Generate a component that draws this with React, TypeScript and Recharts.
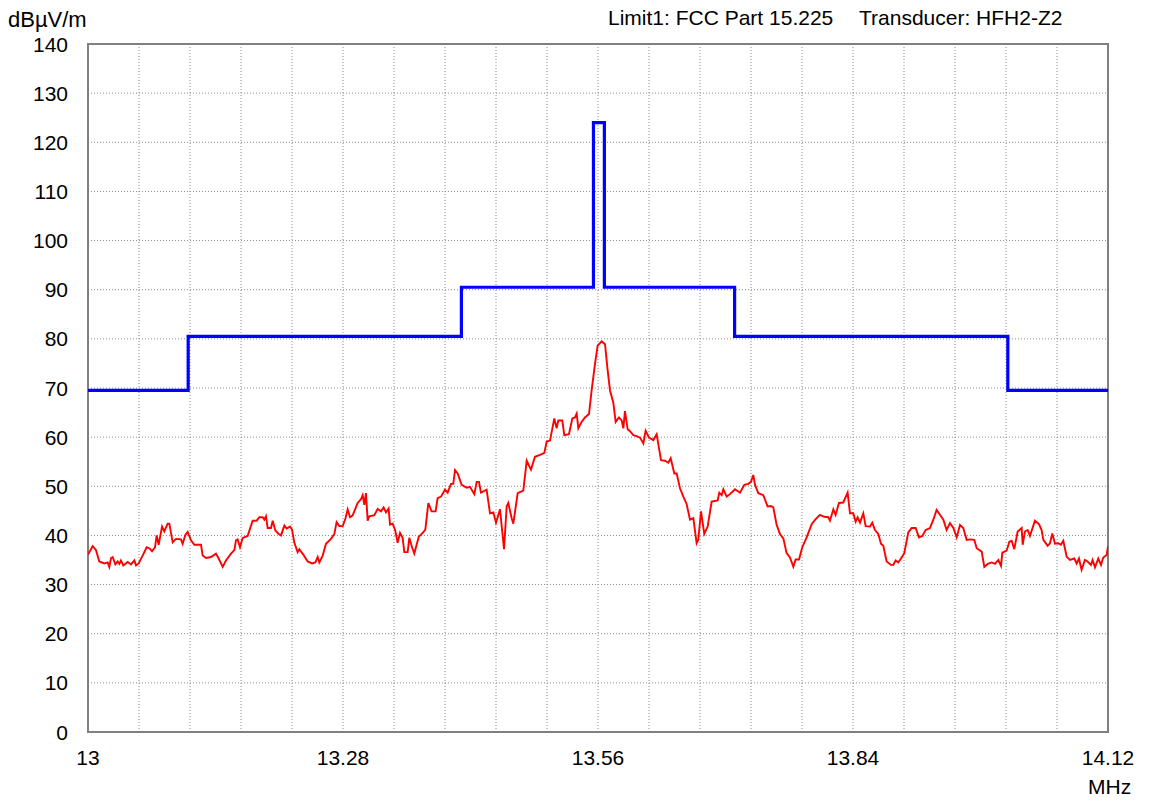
import React from "react";
import { LineChart, Line, XAxis, YAxis, CartesianGrid, ReferenceArea } from "recharts";

const traceFreq: number[] = [
  13.0, 13.0051, 13.0088, 13.0124, 13.0179, 13.0216, 13.0234, 13.0253, 13.0271, 13.03, 13.0326, 13.0344, 13.0362, 13.0388, 13.0436, 13.0472, 13.0509, 13.0527, 13.0556, 13.06,
  13.0644, 13.0673, 13.0703, 13.0736, 13.0754, 13.0776, 13.0813, 13.0838, 13.0875, 13.0893, 13.093, 13.0966, 13.1021, 13.1039, 13.1069, 13.1094, 13.1131, 13.1168, 13.1241, 13.1259,
  13.1296, 13.1351, 13.1405, 13.1435, 13.1479, 13.1515, 13.157, 13.1607, 13.1625, 13.1643, 13.1669, 13.1698, 13.1753, 13.1808, 13.1852, 13.1881, 13.1918, 13.1936, 13.1954, 13.1973,
  13.2009, 13.2028, 13.2057, 13.2094, 13.2119, 13.2156, 13.2181, 13.2218, 13.224, 13.2266, 13.2302, 13.232, 13.2364, 13.2412, 13.246, 13.2496, 13.2522, 13.254, 13.2577, 13.2613,
  13.2668, 13.2705, 13.273, 13.276, 13.2796, 13.2826, 13.2851, 13.2877, 13.2906, 13.2935, 13.2961, 13.2998, 13.3016, 13.3034, 13.3052, 13.3071, 13.3089, 13.3144, 13.3181, 13.3217,
  13.3246, 13.3272, 13.3301, 13.3316, 13.3345, 13.3374, 13.34, 13.3426, 13.3455, 13.3473, 13.351, 13.3528, 13.3558, 13.3583, 13.3631, 13.3675, 13.3704, 13.3737, 13.3773, 13.3817,
  13.3839, 13.3876, 13.392, 13.3949, 13.3986, 13.4011, 13.403, 13.4059, 13.4103, 13.4158, 13.4194, 13.4242, 13.4268, 13.4293, 13.4315, 13.4377, 13.4414, 13.4451, 13.448, 13.4524,
  13.4568, 13.4597, 13.4615, 13.4652, 13.467, 13.4718, 13.478, 13.4817, 13.4864, 13.4908, 13.4963, 13.5011, 13.5036, 13.5073, 13.512, 13.5146, 13.5164, 13.5208, 13.523, 13.5281,
  13.5318, 13.5347, 13.5366, 13.5384, 13.542, 13.5457, 13.5501, 13.553, 13.5567, 13.5596, 13.564, 13.5677, 13.5706, 13.5732, 13.5768, 13.5794, 13.583, 13.586, 13.5878, 13.5896,
  13.5926, 13.5951, 13.5988, 13.6024, 13.6061, 13.6098, 13.6123, 13.616, 13.6207, 13.6244, 13.6292, 13.6335, 13.6372, 13.6398, 13.6438, 13.6464, 13.65, 13.6537, 13.6573, 13.661,
  13.6647, 13.6683, 13.6701, 13.6731, 13.6767, 13.6804, 13.6848, 13.6914, 13.6932, 13.6958, 13.6976, 13.7013, 13.7049, 13.7104, 13.7159, 13.7207, 13.725, 13.728, 13.7305, 13.7324,
  13.736, 13.7415, 13.7462, 13.7499, 13.7525, 13.7562, 13.7598, 13.7635, 13.7671, 13.7708, 13.7745, 13.777, 13.7807, 13.7843, 13.7891, 13.7946, 13.799, 13.8037, 13.8085, 13.8129,
  13.8147, 13.8184, 13.8209, 13.8246, 13.8293, 13.8341, 13.8367, 13.8403, 13.8429, 13.8451, 13.8477, 13.8513, 13.8539, 13.8586, 13.8612, 13.8641, 13.8678, 13.8707, 13.8733, 13.8769,
  13.8817, 13.8843, 13.8868, 13.8897, 13.8927, 13.8963, 13.9007, 13.9044, 13.9088, 13.9124, 13.9161, 13.9198, 13.9245, 13.9282, 13.9318, 13.9355, 13.9392, 13.9428, 13.9465, 13.9502,
  13.9538, 13.9575, 13.9611, 13.9648, 13.9684, 13.9732, 13.9758, 13.9813, 13.9842, 13.9879, 13.9923, 13.9959, 13.9996, 14.0025, 14.004, 14.0087, 14.0117, 14.0142, 14.0171, 14.0208,
  14.0252, 14.0263, 14.0288, 14.0318, 14.0343, 14.0398, 14.0442, 14.0471, 14.049, 14.0537, 14.0563, 14.0588, 14.0618, 14.0654, 14.0683, 14.0709, 14.0746, 14.0782, 14.083, 14.0856,
  14.0881, 14.091, 14.0947, 14.0976, 14.1013, 14.1031, 14.1057, 14.1093, 14.1123, 14.1148, 14.1185, 14.12,
];

const traceLevel: number[] = [
  36.1, 37.8, 37.0, 34.7, 34.3, 34.5, 33.6, 35.4, 35.6, 34.1, 34.7, 34.2, 34.9, 33.9, 34.6, 34.1, 34.9, 33.9, 34.3, 35.9,
  37.6, 37.4, 36.8, 37.6, 40.0, 38.1, 41.8, 40.8, 42.4, 42.4, 38.6, 39.3, 39.2, 38.3, 40.1, 40.7, 39.0, 38.1, 38.1, 35.9,
  35.4, 35.6, 36.3, 35.3, 33.6, 34.9, 36.3, 37.0, 39.0, 39.2, 37.6, 39.5, 39.9, 43.0, 43.0, 43.7, 43.7, 43.2, 43.9, 41.5,
  41.5, 43.0, 41.0, 40.3, 40.0, 42.0, 41.4, 41.8, 41.2, 38.5, 36.6, 37.2, 36.1, 34.7, 34.3, 34.5, 35.6, 34.5, 35.9, 38.3,
  39.3, 40.3, 42.7, 41.9, 41.9, 43.4, 45.3, 43.7, 44.1, 45.4, 46.6, 47.4, 48.2, 46.2, 48.6, 43.0, 43.9, 44.1, 45.4, 44.9,
  45.7, 44.7, 45.5, 42.2, 42.4, 41.0, 38.5, 40.5, 39.5, 36.6, 36.6, 39.5, 37.6, 36.3, 39.7, 40.5, 41.2, 46.6, 44.9, 44.9,
  47.6, 47.9, 49.3, 48.7, 50.5, 50.5, 53.3, 52.6, 50.3, 49.7, 49.9, 48.4, 50.9, 50.9, 48.7, 49.3, 44.5, 44.7, 42.6, 45.3,
  37.2, 45.9, 46.6, 43.5, 42.4, 48.6, 49.1, 55.2, 53.4, 56.0, 56.4, 56.8, 59.1, 59.3, 63.8, 61.8, 63.4, 63.4, 60.4, 60.6,
  63.8, 64.0, 64.8, 61.8, 63.1, 64.0, 64.7, 69.5, 74.9, 78.6, 79.5, 78.9, 73.6, 69.5, 67.0, 63.1, 64.0, 63.4, 61.8, 65.3,
  61.6, 61.2, 60.4, 60.2, 59.9, 58.7, 61.3, 59.9, 59.4, 60.6, 55.3, 55.2, 54.8, 55.7, 52.6, 52.6, 49.6, 47.9, 46.4, 43.2,
  43.5, 38.4, 39.1, 44.9, 40.3, 41.8, 46.9, 47.1, 48.7, 48.2, 49.4, 47.9, 48.4, 49.4, 48.7, 50.3, 50.5, 50.9, 52.3, 50.3,
  48.6, 48.2, 45.9, 46.0, 45.7, 42.1, 40.3, 39.4, 36.4, 35.5, 33.6, 35.1, 35.1, 37.6, 39.6, 42.3, 43.3, 44.2, 43.8, 43.7,
  43.0, 45.3, 44.2, 46.6, 46.7, 48.7, 44.5, 44.5, 42.8, 43.7, 42.6, 44.5, 41.9, 41.8, 42.6, 41.1, 40.3, 38.3, 37.9, 34.7,
  34.0, 34.0, 34.9, 34.5, 35.3, 36.4, 40.6, 41.5, 41.5, 39.6, 39.9, 41.1, 41.5, 43.2, 45.2, 44.2, 43.2, 41.1, 42.5, 41.5,
  39.6, 42.1, 41.5, 39.1, 39.2, 39.1, 37.4, 36.7, 33.6, 34.2, 34.5, 34.2, 35.0, 33.8, 36.5, 36.9, 38.7, 38.9, 37.2, 40.8,
  41.5, 38.1, 40.8, 41.1, 39.9, 43.0, 42.3, 41.1, 39.1, 37.9, 38.4, 40.4, 38.3, 38.4, 38.1, 38.9, 35.7, 35.0, 35.3, 34.3,
  35.3, 33.0, 35.0, 34.7, 34.0, 35.0, 33.5, 35.3, 34.0, 35.5, 36.0, 37.8,
];

const limitFreq: number[] = [13.0, 13.11, 13.11, 13.41, 13.41, 13.555, 13.555, 13.567, 13.567, 13.71, 13.71, 14.01, 14.01, 14.12];
const limitLevel: number[] = [69.5, 69.5, 80.5, 80.5, 90.5, 90.5, 124, 124, 90.5, 90.5, 80.5, 80.5, 69.5, 69.5];

const xGridTicks: number[] = [
  13.0, 13.056, 13.112, 13.168, 13.224, 13.28, 13.336, 13.392, 13.448, 13.504, 13.56,
  13.616, 13.672, 13.728, 13.784, 13.84, 13.896, 13.952, 14.008, 14.064, 14.12,
];
const xLabelTicks: string[] = ["13", "13.28", "13.56", "13.84", "14.12"];
const yTicks: number[] = [0, 10, 20, 30, 40, 50, 60, 70, 80, 90, 100, 110, 120, 130, 140];

const yUnit = "dBµV/m";
const xUnit = "MHz";
const titleLimit = "Limit1: FCC Part 15.225";
const titleTransducer = "Transducer: HFH2-Z2";

const traceData = traceFreq.map((f, i) => ({ f, v: traceLevel[i] }));
const limitData = limitFreq.map((f, i) => ({ f, v: limitLevel[i] }));

const FONT = "'Liberation Sans', Arial, sans-serif";
const FS = 21;

const XTick = (props: any) => {
  const { x, y, payload } = props;
  const label = xLabelTicks.find((l) => Math.abs(parseFloat(l) - payload.value) < 1e-6);
  if (!label) return null;
  return (
    <text x={x} y={y + 33} textAnchor="middle" fontFamily={FONT} fontSize={FS} fill="#000">
      {label}
    </text>
  );
};

const YTick = (props: any) => {
  const { x, y, payload } = props;
  return (
    <text x={x - 20} y={y + 7.5} textAnchor="end" fontFamily={FONT} fontSize={FS} fill="#000">
      {payload.value}
    </text>
  );
};

export default function App() {
  return (
    <div style={{ position: "relative", width: 1146, height: 793, fontFamily: FONT }}>
      <LineChart width={1146} height={793} margin={{ top: 36, right: 46, left: 0, bottom: 0 }}>
        <CartesianGrid stroke="#8a8a8a" strokeDasharray="1 2" strokeWidth={1} />
        <XAxis
          dataKey="f"
          type="number"
          domain={[13, 14.12]}
          ticks={xGridTicks}
          interval={0}
          allowDataOverflow
          axisLine={false}
          tickLine={false}
          tickSize={0}
          tickMargin={0}
          height={69}
          tick={<XTick />}
        />
        <YAxis
          type="number"
          domain={[0, 140]}
          ticks={yTicks}
          interval={0}
          axisLine={false}
          tickLine={false}
          tickSize={0}
          tickMargin={0}
          width={80}
          tick={<YTick />}
        />
        <ReferenceArea x1={13} x2={14.12} y1={0} y2={140} fill="none" stroke="#808080" strokeWidth={2} />
        <Line data={traceData} dataKey="v" type="linear" stroke="#ff0000" strokeWidth={1.9} dot={false} isAnimationActive={false} />
        <Line data={limitData} dataKey="v" type="linear" stroke="#0000ff" strokeWidth={3.2} dot={false} isAnimationActive={false} />
      </LineChart>
      <div style={{ position: "absolute", left: 0, top: -1, fontSize: 22, lineHeight: "26px", color: "#000" }}>{yUnit}</div>
      <div style={{ position: "absolute", left: 600, top: -3, fontSize: FS, lineHeight: "26px", color: "#000" }}>{titleLimit}</div>
      <div style={{ position: "absolute", left: 851, top: -3, fontSize: FS, lineHeight: "26px", color: "#000" }}>{titleTransducer}</div>
      <div style={{ position: "absolute", left: 1080, top: 766, fontSize: FS, lineHeight: "26px", color: "#000" }}>{xUnit}</div>
    </div>
  );
}
